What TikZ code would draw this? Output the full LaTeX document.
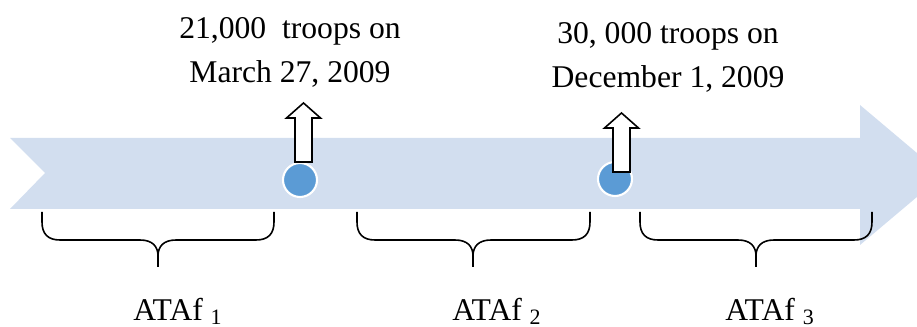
\documentclass[tikz,border=0pt]{standalone}
\usepackage{fontspec}
\setmainfont{Liberation Serif}

\definecolor{bandblue}{HTML}{D2DEEF}
\definecolor{dotblue}{HTML}{5B9BD5}

\begin{document}
\begin{tikzpicture}[x=0.02cm, y=-0.02cm,
  every node/.style={font=\fontsize{18}{25.5}\selectfont},
  dot/.style={circle, fill=dotblue, draw=white, line width=1.2pt, minimum size=0.68cm, inner sep=0pt},
  upbox/.style={draw=black, fill=white, line width=0.9pt},
  curly/.style={draw=black, line width=0.9pt}]
  \useasboundingbox (0,0) rectangle (917,327);
  \clip (0,0) rectangle (917,327);
  % timeline band
  \fill[bandblue] (10,138) -- (860,138) -- (860,105) -- (943,175) -- (860,245)
    -- (860,209) -- (10,209) -- (45,173) -- cycle;
  % event dots
  \node[dot] (dot1) at (300,180) {};
  \node[dot] (dot2) at (615,179) {};
  % up arrows
  \foreach \x/\ya/\yb in {295/103/162, 613/113/172}
    \draw[upbox] (\x,\yb) -- (\x,\ya+15) -- (\x-8.5,\ya+15) -- (\x+8.5,\ya)
      -- (\x+25.5,\ya+15) -- (\x+17,\ya+15) -- (\x+17,\yb) -- cycle;
  % event notes
  \node[align=center, anchor=base] (note1) at (290,83) {21,000\ \ troops on\\March 27, 2009};
  \node[align=center, anchor=base] (note2) at (668,88) {30, 000 troops on\\December 1, 2009};
  % braces
  \foreach \l/\m/\r in {42/158/274, 357/473/590, 640/756/872}
    \draw[curly] (\l,212) -- (\l,222) .. controls (\l,234) and (\l+6,240) .. (\l+18,240)
      -- (\m-18,240) .. controls (\m-6,240) and (\m,246) .. (\m,256) -- (\m,267)
      (\m,256) .. controls (\m,246) and (\m+6,240) .. (\m+18,240)
      -- (\r-18,240) .. controls (\r-6,240) and (\r,234) .. (\r,222) -- (\r,212);
  % phase labels
  \foreach \x/\n in {133/1, 452/2, 725/3}
    \node[anchor=base west, inner sep=0pt] (ataf\n) at (\x,321)
      {ATAf \raisebox{-0.07cm}{\fontsize{12.5}{13}\selectfont\n}};
\end{tikzpicture}
\end{document}
